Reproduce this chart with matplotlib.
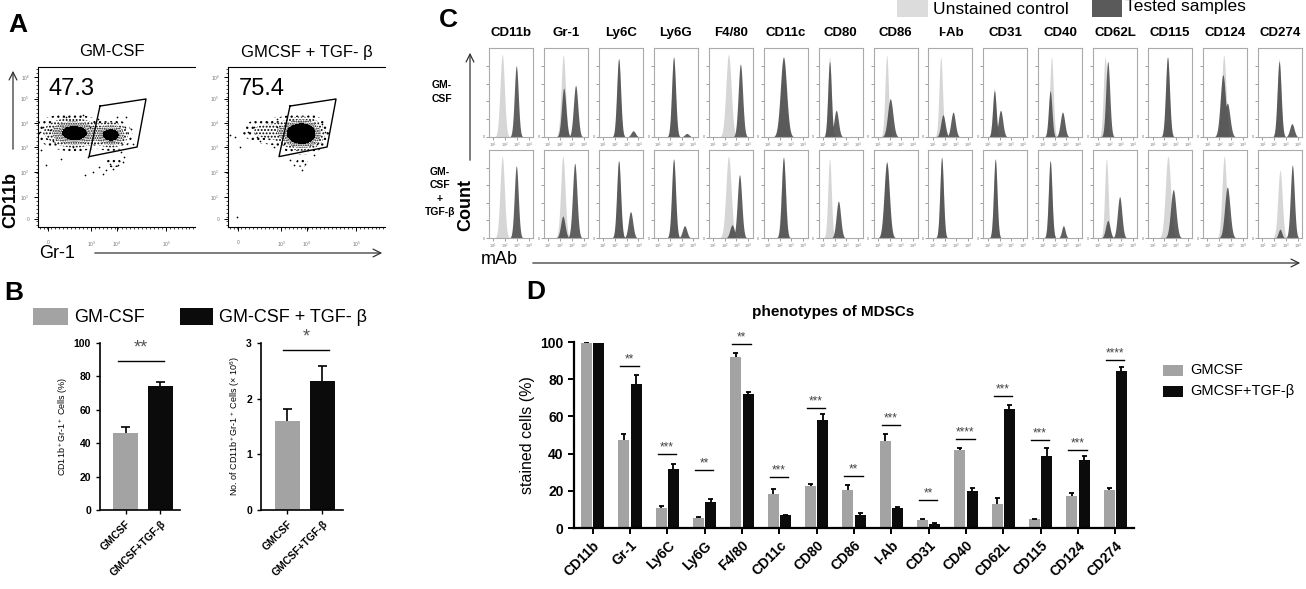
import numpy as np
import matplotlib
matplotlib.use('Agg')
import matplotlib.pyplot as plt
from matplotlib.patches import Rectangle

plt.rcParams['font.family'] = ['Liberation Sans', 'DejaVu Sans']
plt.rcParams['mathtext.default'] = 'regular'
plt.rcParams['hatch.color'] = 'black'
plt.rcParams['hatch.linewidth'] = 0.9

W, H = 1306, 589
GRAY = '#a3a3a3'
BLACK = '#0b0b0b'

# ---------------- data ----------------
# panel A: gate percentages, cluster centres (x, y, sx, sy, weight) and stray events (axes fractions)
gate_pct = ['47.3', '75.4']
gate_x = [0.395, 0.688, 0.631, 0.325]
gate_y = [0.756, 0.800, 0.500, 0.440]
clusters_gm = [(0.244, 0.585, 0.085, 0.050, 1.0), (0.469, 0.575, 0.060, 0.045, 1.1),
               (0.480, 0.400, 0.040, 0.020, 0.25), (0.140, 0.600, 0.110, 0.060, 0.3)]
clusters_tgf = [(0.471, 0.583, 0.075, 0.055, 1.6), (0.250, 0.600, 0.100, 0.050, 0.35),
                (0.470, 0.400, 0.030, 0.020, 0.2)]
stray_gm_x = [0.053, 0.02, 0.149, 0.297, 0.318, 0.35, 0.39, 0.435, 0.478, 0.51, 0.54, 0.55, 0.456,
              0.414, 0.53, 0.594, 0.563, 0.287, 0.18, 0.074, 0.03, 0.01, 0.096, 0.33, 0.38, 0.223,
              0.5, 0.605]
stray_gm_y = [0.385, 0.48, 0.427, 0.323, 0.4375, 0.344, 0.375, 0.354, 0.365, 0.385, 0.406, 0.4375,
              0.396, 0.333, 0.469, 0.615, 0.6875, 0.698, 0.6875, 0.604, 0.625, 0.594, 0.54, 0.625,
              0.677, 0.5, 0.6875, 0.52]
stray_tgf_x = [0.047, 0.015, 0.079, 0.13, 0.163, 0.206, 0.248, 0.312, 0.355, 0.397, 0.418, 0.471,
               0.493, 0.546, 0.567, 0.599, 0.62, 0.057, 0.312, 0.185, 0.29]
stray_tgf_y = [0.5625, 0.573, 0.5, 0.594, 0.625, 0.54, 0.656, 0.677, 0.52, 0.417, 0.385, 0.354,
               0.396, 0.448, 0.52, 0.646, 0.594, 0.0625, 0.625, 0.5625, 0.5]

# panel B
b_groups = ['GMCSF', 'GMCSF+TGF-β']
b_pct = [46, 74.4]
b_pct_err = [4, 2.4]
b_num = [1.60, 2.31]
b_num_err = [0.21, 0.28]

# panel C: histogram peaks (position, height, width) in axes fractions
hist_markers = ['CD11b', 'Gr-1', 'Ly6C', 'Ly6G', 'F4/80', 'CD11c', 'CD80', 'CD86', 'I-Ab',
                'CD31', 'CD40', 'CD62L', 'CD115', 'CD124', 'CD274']
ctrl_gm = [[(0.30, 0.93, 0.05)], [(0.44, 0.92, 0.05)], [(0.45, 0.88, 0.04)], [(0.45, 0.88, 0.04)],
           [(0.45, 0.93, 0.06)], [(0.45, 0.85, 0.06)], [(0.25, 0.90, 0.04)], [(0.30, 0.92, 0.04)],
           [(0.28, 0.90, 0.04)], [(0.25, 0.55, 0.04)], [(0.30, 0.90, 0.04)], [(0.27, 0.90, 0.04)],
           [(0.44, 0.90, 0.04)], [(0.47, 0.92, 0.05)], [(0.48, 0.88, 0.04)]]
test_gm = [[(0.62, 0.80, 0.045)],
           [(0.45, 0.55, 0.05), (0.72, 0.58, 0.05)],
           [(0.45, 0.88, 0.045), (0.78, 0.07, 0.05)],
           [(0.45, 0.90, 0.045), (0.75, 0.04, 0.05)],
           [(0.72, 0.82, 0.05)],
           [(0.45, 0.90, 0.07)],
           [(0.25, 0.85, 0.04), (0.40, 0.30, 0.05)],
           [(0.38, 0.43, 0.06)],
           [(0.33, 0.25, 0.05), (0.56, 0.28, 0.05)],
           [(0.25, 0.52, 0.04), (0.39, 0.30, 0.05)],
           [(0.27, 0.52, 0.04), (0.55, 0.28, 0.05)],
           [(0.33, 0.85, 0.045)],
           [(0.44, 0.90, 0.045)],
           [(0.45, 0.70, 0.06), (0.55, 0.38, 0.06)],
           [(0.48, 0.85, 0.045), (0.77, 0.15, 0.05)]]
ctrl_tgf = [[(0.30, 0.93, 0.05)], [(0.43, 0.93, 0.05)], [(0.45, 0.88, 0.04)], [(0.45, 0.88, 0.04)],
            [(0.45, 0.93, 0.06)], [(0.45, 0.90, 0.05)], [(0.25, 0.90, 0.04)], [(0.30, 0.88, 0.05)],
            [(0.30, 0.90, 0.04)], [(0.27, 0.88, 0.04)], [(0.27, 0.88, 0.04)], [(0.30, 0.90, 0.04)],
            [(0.45, 0.93, 0.06)], [(0.48, 0.93, 0.05)], [(0.50, 0.77, 0.05)]]
test_tgf = [[(0.62, 0.82, 0.045)],
            [(0.43, 0.25, 0.05), (0.70, 0.85, 0.05)],
            [(0.45, 0.88, 0.045), (0.72, 0.30, 0.05)],
            [(0.45, 0.90, 0.045), (0.70, 0.14, 0.05)],
            [(0.53, 0.15, 0.05), (0.70, 0.72, 0.05)],
            [(0.45, 0.92, 0.045)],
            [(0.45, 0.42, 0.05)],
            [(0.30, 0.86, 0.06)],
            [(0.30, 0.92, 0.04)],
            [(0.27, 0.90, 0.04)],
            [(0.27, 0.88, 0.04), (0.57, 0.14, 0.04)],
            [(0.33, 0.20, 0.05), (0.60, 0.47, 0.05)],
            [(0.57, 0.55, 0.06)],
            [(0.55, 0.58, 0.06)],
            [(0.50, 0.10, 0.04), (0.78, 0.83, 0.045)]]

# panel D
markers = ['CD11b', 'Gr-1', 'Ly6C', 'Ly6G', 'F4/80', 'CD11c', 'CD80', 'CD86', 'I-Ab', 'CD31',
           'CD40', 'CD62L', 'CD115', 'CD124', 'CD274']
gmcsf = [99.5, 47.5, 10.8, 5.6, 91.9, 18.5, 22.4, 20.3, 47.0, 4.3, 41.8, 12.7, 4.7, 17.4, 20.6]
gmcsf_err = [0.3, 3.2, 1.0, 0.3, 2.4, 2.5, 1.4, 2.6, 3.7, 0.5, 1.2, 3.6, 0.2, 1.6, 1.1]
gmcsf_tgf = [99.5, 77.4, 31.9, 14.2, 71.9, 6.8, 57.9, 6.8, 10.9, 2.3, 19.9, 63.8, 38.7, 36.6, 84.4]
gmcsf_tgf_err = [0.0, 4.6, 2.3, 1.4, 1.2, 0.4, 3.6, 1.3, 0.6, 0.2, 1.8, 2.5, 4.3, 1.9, 2.2]
sig_stars = ['', '**', '***', '**', '**', '***', '***', '**', '***', '**', '****', '***', '***',
             '***', '****']
sig_line_y = [None, 87.1, 40.0, 31.4, 99.1, 27.4, 64.5, 27.8, 55.2, 15.2, 48.0, 70.8, 47.5, 42.1, 90.1]

# ---------------- figure ----------------
fig = plt.figure(figsize=(W / 100, H / 100), dpi=100)
ov = fig.add_axes([0, 0, 1, 1])
ov.set_xlim(0, W)
ov.set_ylim(H, 0)
ov.axis('off')


def ax_px(x0, y0, x1, y1):
    return fig.add_axes([x0 / W, 1 - y1 / H, (x1 - x0) / W, (y1 - y0) / H])


def arrow(x0, y0, x1, y1):
    ov.annotate('', xy=(x1, y1), xytext=(x0, y0),
                arrowprops=dict(arrowstyle='->', lw=0.9, color='#333333', mutation_scale=14))


for lab, (x, y) in zip('ABCD', [(18, 25), (14, 293), (448, 20), (536, 292)]):
    ov.text(x, y, lab, fontsize=19, fontweight='bold', ha='center', va='center')

# ---- A: dot plots ----
gx, gy = np.meshgrid(np.linspace(0, 1, 300), np.linspace(0, 1, 300))
for i, (x0, clusters, sx, sy) in enumerate([(38, clusters_gm, stray_gm_x, stray_gm_y),
                                            (228, clusters_tgf, stray_tgf_x, stray_tgf_y)]):
    ax = ax_px(x0, 67, x0 + 157, 227)
    dens = np.zeros_like(gx)
    for cx, cy, wx, wy, wt in clusters:
        dens += wt * np.exp(-0.5 * (((gx - cx) / wx) ** 2 + ((gy - cy) / wy) ** 2))
    ax.contourf(gx, gy, dens, levels=[0.1, 0.25, 0.45, 0.7, 10], colors='none',
                hatches=['...', '.....', '.......', '........'])
    ax.contourf(gx, gy, dens, levels=[0.88, 10], colors='black')
    ax.scatter(sx, sy, s=1.5, color='black', lw=0)
    ax.plot(gate_x + gate_x[:1], gate_y + gate_y[:1], color='black', lw=1)
    ax.text(0.07, 0.86, gate_pct[i], transform=ax.transAxes, fontsize=17, va='center')
    ax.set_xlim(0, 1)
    ax.set_ylim(0, 1)
    ax.spines['right'].set_visible(False)
    ax.set_xticks([0.064, 0.34, 0.5, 0.817])
    ax.set_xticklabels(['0', '$10^3$', '$10^4$', '$10^5$'])
    ax.set_yticks([0.052, 0.1875, 0.344, 0.5, 0.65, 0.802, 0.9375])
    ax.set_yticklabels(['0', '$10^1$', '$10^2$', '$10^3$', '$10^4$', '$10^5$', '$10^6$'])
    ax.set_xticks(np.linspace(0.01, 0.99, 40), minor=True)
    ax.set_yticks(np.linspace(0.01, 0.99, 40), minor=True)
    ax.tick_params(labelsize=3.5, labelcolor='#777777', length=3, width=0.7, pad=3)
    ax.tick_params(axis='x', pad=6)
    ax.tick_params(which='minor', length=1.5, width=0.5)
    for s in ax.spines.values():
        s.set_linewidth(0.8)

ov.text(112, 52, 'GM-CSF', fontsize=12, ha='center', va='center')
ov.text(307, 52, 'GMCSF + TGF- β', fontsize=12, ha='center', va='center')
ov.text(11, 200, 'CD11b', fontsize=13, fontweight='bold', rotation=90, ha='center', va='center')
arrow(13, 152, 13, 68)
ov.text(57, 253, 'Gr-1', fontsize=13, ha='center', va='center')
arrow(92, 253, 385, 253)

# ---- B: bar charts ----
ov.add_patch(Rectangle((33, 308), 35, 17, fc=GRAY, ec='none'))
ov.text(74, 317, 'GM-CSF', fontsize=13, va='center')
ov.add_patch(Rectangle((180, 308), 33, 17, fc=BLACK, ec='none'))
ov.text(219, 317, 'GM-CSF + TGF- β', fontsize=13, va='center')

b_panels = [((100, 343, 180, 510), b_pct, b_pct_err, 100, [0, 20, 40, 60, 80, 100],
             'CD11b$^+$Gr-1$^+$ Cells (%)', '**', 89, 97, (-0.21, 1.1), (-0.73, 1.56)),
            ((261, 343, 343, 510), b_num, b_num_err, 3, [0, 1, 2, 3],
             'No. of CD11b$^+$Gr-1$^+$ Cells (× 10$^6$)', '*', 2.88, 3.1, (-0.13, 1.19),
             (-0.757, 1.586))]
for rect, vals, errs, top, ticks, ylab, star, ly, sy, (lx0, lx1), xl in b_panels:
    ax = ax_px(*rect)
    xs = np.arange(2)
    ax.bar(xs, vals, width=0.72, color=[GRAY, BLACK])
    for x, v, e in zip(xs, vals, errs):
        ax.vlines(x, v, v + e, color='black', lw=1.2)
        ax.hlines(v + e, x - 0.14, x + 0.14, color='black', lw=1.2)
    ax.plot([lx0, lx1], [ly, ly], color='black', lw=1, clip_on=False)
    ax.text((lx0 + lx1) / 2, sy, star, fontsize=13, color='#555555', ha='center', va='center',
            clip_on=False)
    ax.set_xlim(*xl)
    ax.set_ylim(0, top)
    ax.set_yticks(ticks)
    ax.set_xticks(xs)
    ax.set_xticklabels(b_groups, rotation=45, ha='right', rotation_mode='anchor',
                       fontsize=8, fontweight='bold')
    for t in ax.get_yticklabels():
        t.set_fontweight('bold')
    ax.tick_params(labelsize=7.5, length=3, width=1)
    ax.set_ylabel(ylab, fontsize=6.5, labelpad=3)
    for s in ['top', 'right']:
        ax.spines[s].set_visible(False)
    for s in ['left', 'bottom']:
        ax.spines[s].set_linewidth(1.2)

# ---- C: histograms ----
hx = np.linspace(0, 1, 200)


def curve(peaks):
    y = np.zeros_like(hx)
    for c, h, w in peaks:
        y = np.maximum(y, h * np.exp(-0.5 * ((hx - c) / w) ** 2))
    return y


for row, (y0, y1, ctrl, test) in enumerate([(48, 137, ctrl_gm, test_gm),
                                             (150, 238, ctrl_tgf, test_tgf)]):
    for j, name in enumerate(hist_markers):
        x0 = 489 + j * 54.93
        ax = ax_px(x0, y0, x0 + 44, y1)
        ax.fill_between(hx, 0, curve(ctrl[j]), color='#d6d6d6', lw=0)
        ax.fill_between(hx, 0, curve(test[j]), color='#444444', alpha=0.85, lw=0)
        ax.set_xlim(0, 1)
        ax.set_ylim(0, 1)
        ax.set_xticks([0.1, 0.37, 0.63, 0.9])
        ax.set_xticklabels(['$10^1$', '$10^2$', '$10^3$', '$10^4$'])
        ax.set_yticks([0, 0.2, 0.4, 0.6, 0.8])
        ax.set_yticklabels(['0', '', '', '', ''])
        ax.tick_params(labelsize=2.8, labelcolor='#777777', length=2, width=0.5, pad=1,
                       color='#777777')
        for s in ax.spines.values():
            s.set_color('#aaaaaa')
            s.set_linewidth(0.8)
        if row == 0:
            ov.text(x0 + 22, 33, name, fontsize=9.5, fontweight='bold', ha='center', va='center')

ov.add_patch(Rectangle((897, -2), 31, 19, fc='#dcdcdc', ec='none'))
ov.text(933, 9, 'Unstained control', fontsize=12.5, va='center')
ov.add_patch(Rectangle((1092, -2), 30, 19, fc='#5a5a5a', ec='none'))
ov.text(1125, 7, 'Tested samples', fontsize=12.5, va='center')
ov.text(442, 92, 'GM-\nCSF', fontsize=7.5, fontweight='bold', ha='center', va='center',
        linespacing=1.5)
ov.text(440, 192, 'GM-\nCSF\n+\nTGF-β', fontsize=7.5, fontweight='bold', ha='center',
        va='center', linespacing=1.4)
ov.text(466, 205, 'Count', fontsize=13, fontweight='bold', rotation=90, ha='center', va='center')
arrow(470, 163, 470, 50)
ov.text(499, 260, 'mAb', fontsize=13, ha='center', va='center')
arrow(530, 263, 1303, 263)

# ---- D: phenotypes ----
axD = ax_px(574, 342, 1134, 528)
xs = np.arange(len(markers))
bw = 0.3
axD.bar(xs - 0.165, gmcsf, width=bw, color=GRAY)
axD.bar(xs + 0.165, gmcsf_tgf, width=bw, color=BLACK)
for off, vals, errs in [(-0.165, gmcsf, gmcsf_err), (0.165, gmcsf_tgf, gmcsf_tgf_err)]:
    for x, v, e in zip(xs + off, vals, errs):
        if e > 0:
            axD.vlines(x, v, v + e, color='black', lw=1.3)
            axD.hlines(v + e, x - 0.07, x + 0.07, color='black', lw=1.3)
for x, st, ly in zip(xs, sig_stars, sig_line_y):
    if ly is None:
        continue
    axD.plot([x - 0.26, x + 0.23], [ly, ly], color='black', lw=1, clip_on=False)
    axD.text(x - 0.02, ly + 3.5, st, fontsize=8.5, color='#444444', ha='center', va='center',
             clip_on=False)
axD.set_xlim(-0.5, 14.5)
axD.set_ylim(0, 100)
axD.set_yticks([0, 20, 40, 60, 80, 100])
axD.set_xticks(xs)
axD.set_xticklabels(markers, rotation=45, ha='right', rotation_mode='anchor', fontsize=9.5,
                    fontweight='bold')
for t in axD.get_yticklabels():
    t.set_fontweight('bold')
axD.tick_params(labelsize=10, length=4, width=1.4)
axD.set_ylabel('stained cells (%)', fontsize=11.5, labelpad=4)
for s in ['top', 'right']:
    axD.spines[s].set_visible(False)
for s in ['left', 'bottom']:
    axD.spines[s].set_linewidth(1.6)
ov.text(833, 312, 'phenotypes of MDSCs', fontsize=11, fontweight='bold', ha='center',
        va='center')

ov.add_patch(Rectangle((1163, 365), 20, 11, fc=GRAY, ec='none'))
ov.text(1190, 370, 'GMCSF', fontsize=10.5, va='center')
ov.add_patch(Rectangle((1163, 386), 20, 11, fc=BLACK, ec='none'))
ov.text(1190, 391, 'GMCSF+TGF-β', fontsize=10.5, va='center')

fig.savefig('out.png', dpi=100)
